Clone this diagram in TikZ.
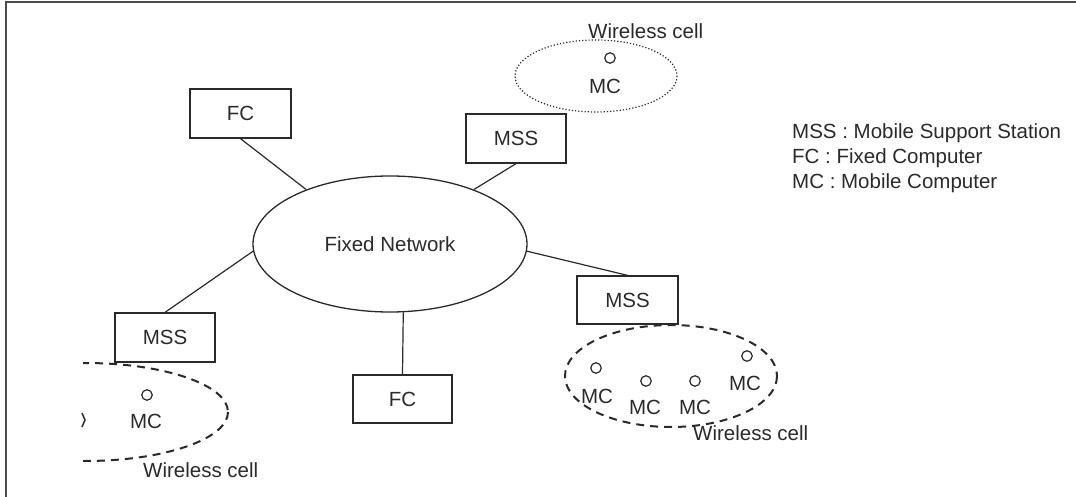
\documentclass[tikz,border=0pt]{standalone}
\usepackage{fontspec}
\setmainfont{Liberation Sans}
\usetikzlibrary{shapes.geometric}
\definecolor{ink}{HTML}{2A2A2A}
\tikzset{
  every node/.style={text=ink, font=\fontsize{20.5}{25}\selectfont, inner sep=0pt},
  box/.style={draw=ink, line width=1.3pt, rectangle, minimum width=100pt, minimum height=49pt},
  cloud/.style={draw=ink, line width=1.3pt, ellipse, minimum width=274pt, minimum height=136pt},
  link/.style={draw=ink, line width=1.2pt},
  host/.style={draw=ink, line width=1.2pt, circle, minimum size=10.5pt},
  celldash/.style={draw=ink, line width=2pt, dash pattern=on 8pt off 6pt},
  celldot/.style={draw=ink, line width=1.2pt, dash pattern=on 1.2pt off 2pt},
}
\begin{document}
\begin{tikzpicture}[x=1pt, y=-1pt]
\useasboundingbox (0,0) rectangle (1076,497);

% frame
\draw[line width=2pt, draw=black!70] (6,497) -- (6,2) -- (1076,2);

% core network and attached stations
\node[cloud] (net) at (390,244) {Fixed Network};
\node[box, minimum width=101pt] (fcA) at (240.5,113.5) {FC};
\node[box] (mssA) at (516,138.5) {MSS};
\node[box] (mssB) at (165,337.5) {MSS};
\node[box, minimum width=99pt, minimum height=48pt] (fcB) at (402.5,399) {FC};
\node[box, minimum width=101pt, minimum height=48pt] (mssC) at (627.5,300) {MSS};

\draw[link] (fcA.south) -- (net.147);
\draw[link] (mssA.south) -- (net.33);
\draw[link] (mssB.north) -- (net.183);
\draw[link] (fcB.north) -- (net.-79);
\draw[link] (mssC.north) -- (net.-3);

% upper wireless cell
\draw[celldot] (596,76) ellipse [x radius=81, y radius=36];
\node[host] (mcA) at (610,58) {};
\node (mcAt) at (605,86) {MC};
\node[anchor=base west] (wcA) at (588,39) {Wireless cell};

% lower-left wireless cell
\begin{scope}
  \clip (83,340) rectangle (260,480);
  \draw[celldash] (85,412) ellipse [x radius=143, y radius=49];
\end{scope}
\coordinate (tickA) at (82,413);
\coordinate (tickB) at (85,420);
\coordinate (tickC) at (82,427);
\draw[draw=ink, line width=1.5pt] (tickA) -- (tickB) -- (tickC);
\node[host] (mcB) at (147,395) {};
\node (mcBt) at (146,421) {MC};
\node[anchor=base west] (wcB) at (143,477) {Wireless cell};

% lower-right wireless cell
\draw[celldash] (671,376) ellipse [x radius=106, y radius=51];
\node[host] (mcC1) at (596,368) {};
\node[host] (mcC2) at (646,381) {};
\node[host] (mcC3) at (695,381) {};
\node[host] (mcC4) at (747,356) {};
\node (mcC1t) at (597,396) {MC};
\node (mcC2t) at (645,407) {MC};
\node (mcC3t) at (695,407) {MC};
\node (mcC4t) at (745,383) {MC};
\node[anchor=base west] (wcC) at (693,440) {Wireless cell};

% legend
\node[anchor=base west] (lg1) at (792,139) {MSS : Mobile Support Station};
\node[anchor=base west] (lg2) at (792,164) {FC : Fixed Computer};
\node[anchor=base west] (lg3) at (792,189) {MC : Mobile Computer};
\end{tikzpicture}
\end{document}
